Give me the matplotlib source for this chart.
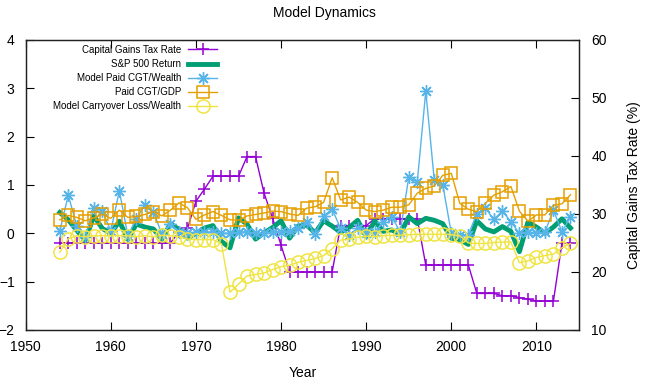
import numpy as np
import matplotlib
matplotlib.use("Agg")
import matplotlib.pyplot as plt

plt.rcParams['font.family'] = ['Liberation Sans', 'DejaVu Sans']

years = list(range(1954, 2015))

tax_rate = [25]*14 + [26.9, 27.5, 32.2, 34.3, 36.5, 36.5, 36.5, 36.5, 39.9, 39.9,
                      33.6, 29.3, 24.6, 20, 20, 20, 20, 20, 20,
                      28, 28, 28, 28, 29.2, 29.2, 29.2, 29.2, 29.2, 29.2,
                      21.2, 21.2, 21.2, 21.2, 21.2, 21.2,
                      16.3, 16.3, 16.3, 15.9, 15.9, 15.6, 15.3, 15.0, 15.0, 15.0,
                      25, 25]

sp500 = [0.43, 0.28, 0.06, -0.14, 0.36, 0.10, 0.00, 0.25, -0.12, 0.19,
         0.13, 0.09, -0.12, 0.20, 0.08, -0.10, 0.00, 0.11, 0.16, -0.17,
         -0.30, 0.32, 0.19, -0.12, 0.01, 0.12, 0.26, -0.10, 0.15, 0.17,
         0.01, 0.26, 0.15, 0.02, 0.12, 0.27, -0.07, 0.26, 0.04, 0.07,
         -0.02, 0.34, 0.20, 0.31, 0.27, 0.20, -0.10, -0.13, -0.23, 0.26,
         0.09, 0.03, 0.14, 0.04, -0.38, 0.23, 0.13, 0.00, 0.13, 0.30, 0.11]

model_paid = [0.05, 0.79, 0.15, -0.07, 0.53, 0.46, 0.05, 0.88, -0.05, 0.30,
              0.59, 0.45, -0.02, 0.20, 0.03, 0.00, 0.02, 0.03, 0.03, 0.00,
              0.00, 0.03, 0.03, 0.00, 0.00, 0.03, 0.03, 0.05, 0.10, 0.24,
              -0.01, 0.36, 0.50, 0.10, -0.03, 0.10, 0.00, 0.03, 0.24, 0.34,
              0.03, 1.16, 1.06, 2.94, 1.10, 1.00, 0.00, -0.03, -0.03, 0.41,
              0.52, 0.29, 0.46, 0.24, 0.00, 0.03, 0.00, 0.03, 0.48, 0.03, 0.34]

paid_gdp = [0.28, 0.37, 0.33, 0.26, 0.32, 0.39, 0.31, 0.48, 0.33, 0.35,
            0.39, 0.45, 0.36, 0.48, 0.63, 0.53, 0.29, 0.38, 0.45, 0.37,
            0.28, 0.27, 0.36, 0.39, 0.42, 0.46, 0.45, 0.40, 0.37, 0.52,
            0.55, 0.64, 1.15, 0.69, 0.75, 0.64, 0.48, 0.45, 0.48, 0.54,
            0.54, 0.59, 0.83, 0.93, 0.98, 1.20, 1.24, 0.62, 0.50, 0.45,
            0.62, 0.79, 0.86, 0.97, 0.46, 0.25, 0.38, 0.38, 0.58, 0.61, 0.80]

carryover = [-0.39, -0.11, -0.05, -0.07, -0.05, -0.05, -0.05, -0.05, -0.05, -0.07,
             -0.05, -0.07, -0.04, -0.05, -0.07, -0.12, -0.13, -0.13, -0.13, -0.22,
             -1.22, -1.05, -0.88, -0.85, -0.82, -0.75, -0.69, -0.66, -0.60, -0.56,
             -0.52, -0.46, -0.32, -0.14, -0.12, -0.08, -0.06, -0.07, -0.05, -0.04,
             -0.04, -0.03, -0.02, -0.02, -0.02, -0.02, -0.03, -0.05, -0.20, -0.21,
             -0.21, -0.19, -0.18, -0.18, -0.61, -0.57, -0.50, -0.46, -0.43, -0.30, -0.21]

x_ticks = [1950, 1960, 1970, 1980, 1990, 2000, 2010]
y_ticks = [-2, -1, 0, 1, 2, 3, 4]
y2_ticks = [10, 20, 30, 40, 50, 60]

fig = plt.figure(figsize=(6.48, 3.83), dpi=100)
ax = fig.add_axes([0.0397, 0.1384, 0.8538, 0.7572])
ax2 = ax.twinx()
ax2.set_zorder(ax.get_zorder() - 1)
ax.patch.set_visible(False)

purple = '#9400D3'
green = '#009E73'
blue = '#56B4E9'
orange = '#E69F00'
yellow = '#F0E442'

l1, = ax2.plot(years, tax_rate, color=purple, lw=1, marker='+', ms=9, mew=1.1,
               label='Capital Gains Tax Rate')
l2, = ax.plot(years, sp500, color=green, lw=3.5, label='S&P 500 Return')
l3, = ax.plot(years, model_paid, color=blue, lw=1, marker=(8, 2, 0), ms=9, mew=1.0,
              label='Model Paid CGT/Wealth')
l4, = ax.plot(years, paid_gdp, color=orange, lw=1, marker='s', ms=9, mfc='none', mew=1.1,
              label='Paid CGT/GDP')
l5, = ax.plot(years, carryover, color=yellow, lw=1, marker='o', ms=9.5, mfc='none', mew=1.1,
              label='Model Carryover Loss/Wealth')

ax.set_xlim(1950, 2015)
ax.set_ylim(-2, 4)
ax2.set_ylim(10, 60)
ax.set_xticks(x_ticks)
ax.set_yticks(y_ticks)
ax2.set_yticks(y2_ticks)

ax.tick_params(axis='x', direction='in', length=6, top=True, labelsize=10, pad=7, width=0.8)
ax.tick_params(axis='y', direction='in', length=6, right=False, labelsize=10, pad=8, width=0.8)
ax2.tick_params(axis='y', direction='in', length=6, labelsize=10, pad=9, width=0.8)
for a in (ax, ax2):
    for s in a.spines.values():
        s.set_linewidth(0.9)
        s.set_color('#222222')

ax.set_xlabel('Year', fontsize=10, labelpad=9)
ax2.set_ylabel('Capital Gains Tax Rate (%)', fontsize=10, labelpad=14)
fig.text(0.5, 0.966, 'Model Dynamics', ha='center', va='center', fontsize=10)

leg = ax.legend(handles=[l1, l2, l3, l4, l5], loc='upper right',
                bbox_to_anchor=(0.35, 0.99), frameon=False, markerfirst=False,
                fontsize=7, handlelength=3.0, handletextpad=0.7, labelspacing=0.42,
                borderaxespad=0.0, borderpad=0.2)

fig.savefig('out.png', dpi=100)
